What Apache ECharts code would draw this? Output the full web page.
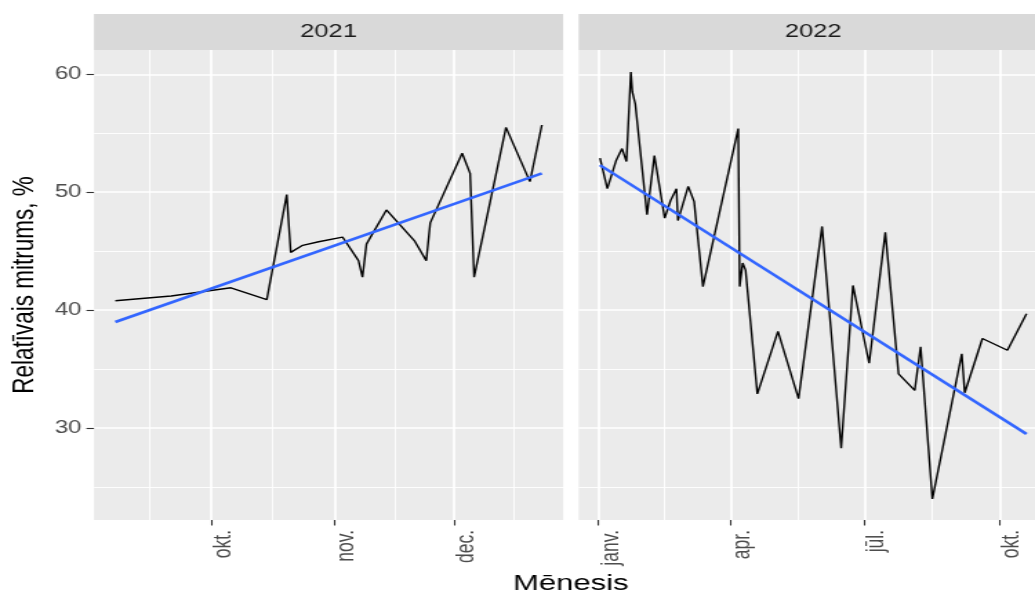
<!DOCTYPE html>
<html>
<head>
<meta charset="utf-8">
<script src="https://cdn.jsdelivr.net/npm/echarts@6/dist/echarts.min.js"></script>
<style>
  html, body { margin: 0; padding: 0; background: #fff; overflow: hidden; }
  #wrap { width: 1035px; height: 596px; overflow: hidden; }
  /* chart is laid out narrow and stretched horizontally; the right panel runs past the page edge */
  #chart { width: 775px; height: 596px; transform: scaleX(1.38); transform-origin: 0 0; }
</style>
</head>
<body>
<div id="wrap"><div id="chart"></div></div>
<script>
// ---- data: relative humidity, %, by date ----
const panels = ['2021', '2022'];

const dates2021 = ['2021-09-07','2021-09-21','2021-10-06','2021-10-15','2021-10-20','2021-10-21',
  '2021-10-24','2021-10-28','2021-11-03','2021-11-07','2021-11-08','2021-11-09','2021-11-14',
  '2021-11-21','2021-11-24','2021-11-25','2021-12-03','2021-12-05','2021-12-06','2021-12-14',
  '2021-12-20','2021-12-23'];
const humidity2021 = [40.8, 41.2, 41.9, 40.9, 49.8, 44.9, 45.5, 45.8, 46.2, 44.2, 42.8, 45.6,
  48.5, 45.9, 44.2, 47.4, 53.3, 51.6, 42.8, 55.5, 50.9, 55.7];

const dates2022 = ['2022-01-02','2022-01-07','2022-01-13','2022-01-17','2022-01-20','2022-01-23',
  '2022-01-24','2022-01-26','2022-02-03','2022-02-08','2022-02-15','2022-02-19','2022-02-23',
  '2022-02-24','2022-03-03','2022-03-07','2022-03-13','2022-04-06','2022-04-07','2022-04-09',
  '2022-04-11','2022-04-19','2022-05-03','2022-05-17','2022-06-02','2022-06-15','2022-06-23',
  '2022-06-26','2022-07-04','2022-07-15','2022-07-24','2022-08-04','2022-08-08','2022-08-16',
  '2022-09-05','2022-09-07','2022-09-19','2022-10-06','2022-10-19'];
const humidity2022 = [52.9, 50.3, 52.7, 53.7, 52.6, 60.2, 58.5, 57.5, 48.1, 53.1, 47.8, 49.3,
  50.3, 47.6, 50.5, 49.2, 42.0, 55.4, 42.0, 44.0, 43.4, 32.9, 38.2, 32.5, 47.1, 28.3, 42.1,
  40.3, 35.5, 46.6, 34.6, 33.2, 36.9, 24.0, 36.3, 33.0, 37.6, 36.6, 39.7];

// linear trend end points
const trendDates2021 = ['2021-09-07', '2021-12-23'];
const trendValues2021 = [39.0, 51.6];
const trendDates2022 = ['2022-01-02', '2022-10-19'];
const trendValues2022 = [52.3, 29.5];

// axis breaks
const monthTicks2021 = ['2021-10-01', '2021-11-01', '2021-12-01'];
const monthMinor2021 = ['2021-09-15 12:00', '2021-10-16 12:00', '2021-11-16', '2021-12-16'];
const monthTicks2022 = ['2022-01-01', '2022-04-01', '2022-07-01', '2022-10-01'];
const monthMinor2022 = ['2022-02-15', '2022-05-16 12:00', '2022-08-16', '2022-11-15 12:00'];
const monthNames = ['janv.', 'febr.', 'marts', 'apr.', 'maijs', 'jūn.', 'jūl.', 'aug.', 'sept.', 'okt.', 'nov.', 'dec.'];
const yTicks = [30, 40, 50, 60];
const yMinor = [25, 35, 45, 55];
const yRange = [22.21, 62.06];

const xTitle = 'Mēnesis';
const yTitle = 'Relatīvais mitrums, %';

// ---- helpers ----
function ts(s) {
  const [d, t] = s.split(' ');
  const [y, m, dd] = d.split('-').map(Number);
  let h = 0, mi = 0;
  if (t) { [h, mi] = t.split(':').map(Number); }
  return new Date(y, m - 1, dd, h, mi).getTime();
}
function pairs(ds, vs) { return ds.map((d, i) => [ts(d), vs[i]]); }
function expanded(ds) {
  const a = ts(ds[0]), b = ts(ds[ds.length - 1]);
  const pad = (b - a) * 0.05;
  return [a - pad, b + pad];
}

// ---- layout ----
const FONT = '"Liberation Sans", Arial, sans-serif';
const PANEL_LEFT = [68.1, 419.3];
const PANEL_W = 340;
const PANEL_TOP = 50;
const PANEL_H = 470;
const STRIP_TOP = 14;
const STRIP_H = 36;

const chart = echarts.init(document.getElementById('chart'), null, { renderer: 'canvas' });

const grids = PANEL_LEFT.map(l => ({
  left: l, top: PANEL_TOP, width: PANEL_W, height: PANEL_H,
  show: true, backgroundColor: '#EBEBEB', borderWidth: 0, containLabel: false
}));

function majorX(gridIndex, range, ticks) {
  const vals = ticks.map(ts);
  return {
    type: 'value', gridIndex, position: 'bottom', min: range[0], max: range[1], scale: true,
    axisLine: { show: false },
    axisTick: { show: true, length: 5.5, customValues: vals, lineStyle: { color: '#333333', width: 1.1 } },
    axisLabel: {
      show: true, customValues: vals, rotate: 90, margin: 10, verticalAlign: 'top',
      color: '#4D4D4D', fontSize: 17.5, fontFamily: FONT,
      formatter: v => monthNames[new Date(v).getMonth()]
    },
    splitLine: { show: true, lineStyle: { color: '#FFFFFF', width: 1.7 } }
  };
}
function minorX(gridIndex, range, ticks) {
  const vals = ticks.map(ts);
  return {
    type: 'value', gridIndex, position: 'top', min: range[0], max: range[1], scale: true,
    axisLine: { show: false },
    axisTick: { show: false, customValues: vals },
    axisLabel: { show: false, customValues: vals },
    splitLine: { show: true, lineStyle: { color: '#FFFFFF', width: 0.9 } }
  };
}
function majorY(gridIndex, withLabels) {
  return {
    type: 'value', gridIndex, position: 'left', min: yRange[0], max: yRange[1],
    name: withLabels ? yTitle : '', nameLocation: 'middle', nameGap: 39, nameRotate: 90,
    nameTextStyle: { color: '#000000', fontSize: 22.5, fontFamily: FONT },
    axisLine: { show: false },
    axisTick: { show: withLabels, length: 5.5, customValues: yTicks, lineStyle: { color: '#333333', width: 1.1 } },
    axisLabel: { show: withLabels, customValues: yTicks, margin: 9, color: '#4D4D4D', fontSize: 17.5, fontFamily: FONT },
    splitLine: { show: true, lineStyle: { color: '#FFFFFF', width: 1.7 } }
  };
}
function minorY(gridIndex) {
  return {
    type: 'value', gridIndex, position: 'right', min: yRange[0], max: yRange[1],
    axisLine: { show: false },
    axisTick: { show: false, customValues: yMinor },
    axisLabel: { show: false, customValues: yMinor },
    splitLine: { show: true, lineStyle: { color: '#FFFFFF', width: 0.9 } }
  };
}

const range2021 = expanded(dates2021);
const range2022 = expanded(dates2022);

const stripGraphics = [];
panels.forEach((label, i) => {
  stripGraphics.push({
    type: 'rect', silent: true,
    shape: { x: PANEL_LEFT[i], y: STRIP_TOP, width: PANEL_W, height: STRIP_H },
    style: { fill: '#D9D9D9' }
  });
  stripGraphics.push({
    type: 'text', silent: true,
    x: PANEL_LEFT[i] + PANEL_W / 2, y: STRIP_TOP + STRIP_H / 2,
    style: { text: label, fill: '#1A1A1A', font: '18.5px ' + FONT, align: 'center', verticalAlign: 'middle' }
  });
});
stripGraphics.push({
  type: 'text', silent: true,
  x: (PANEL_LEFT[0] + PANEL_LEFT[1] + PANEL_W) / 2, y: 584,
  style: { text: xTitle, fill: '#000000', font: '22.5px ' + FONT, align: 'center', verticalAlign: 'middle' }
});

const lineBase = { type: 'line', showSymbol: false, symbol: 'none', animation: false, z: 3 };

chart.setOption({
  animation: false,
  grid: grids,
  xAxis: [
    majorX(0, range2021, monthTicks2021),
    minorX(0, range2021, monthMinor2021),
    majorX(1, range2022, monthTicks2022),
    minorX(1, range2022, monthMinor2022)
  ],
  yAxis: [majorY(0, true), minorY(0), majorY(1, false), minorY(1)],
  graphic: stripGraphics,
  series: [
    Object.assign({}, lineBase, {
      name: panels[0], xAxisIndex: 0, yAxisIndex: 0,
      data: pairs(dates2021, humidity2021),
      lineStyle: { color: '#000000', width: 1.4 }
    }),
    Object.assign({}, lineBase, {
      name: panels[0] + ' trend', xAxisIndex: 0, yAxisIndex: 0,
      data: pairs(trendDates2021, trendValues2021),
      lineStyle: { color: '#3366FF', width: 2.6 }, z: 4
    }),
    Object.assign({}, lineBase, {
      name: panels[1], xAxisIndex: 2, yAxisIndex: 2,
      data: pairs(dates2022, humidity2022),
      lineStyle: { color: '#000000', width: 1.4 }
    }),
    Object.assign({}, lineBase, {
      name: panels[1] + ' trend', xAxisIndex: 2, yAxisIndex: 2,
      data: pairs(trendDates2022, trendValues2022),
      lineStyle: { color: '#3366FF', width: 2.6 }, z: 4
    })
  ]
});
</script>
</body>
</html>
